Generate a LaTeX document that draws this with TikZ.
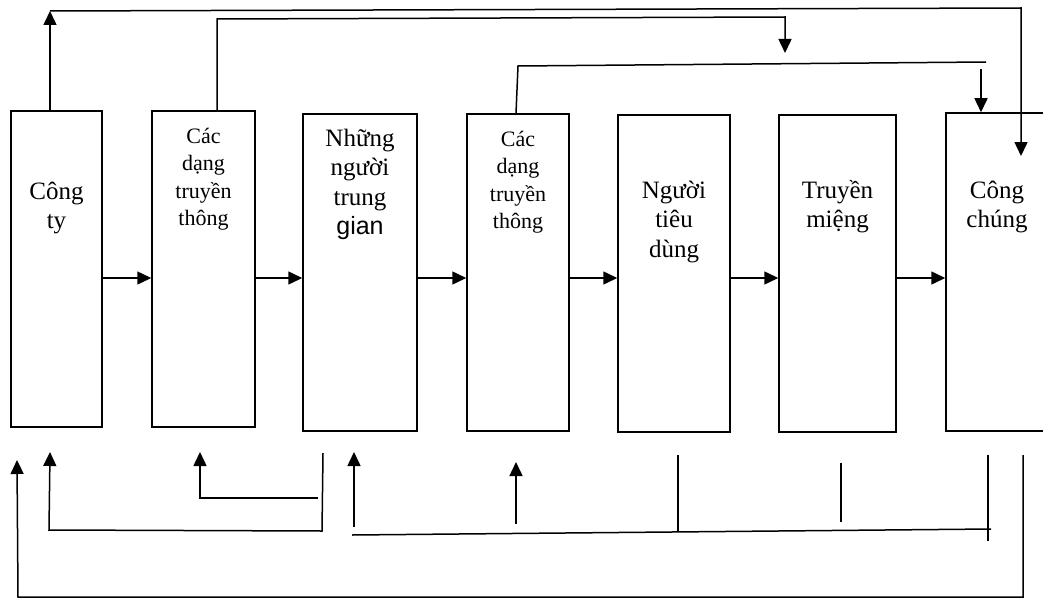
\documentclass[tikz,border=0pt]{standalone}
\usepackage{fontspec}
\setmainfont{Liberation Serif}
\newfontfamily\gsans{Liberation Sans}
\usetikzlibrary{arrows.meta}
\begin{document}
\begin{tikzpicture}[x=1pt,y=-1pt,
  line width=1.5pt,
  box/.style={draw, line width=1.5pt, inner sep=0pt},
  % labels are placed by the baseline of their last line
  bigtxt/.style={align=center, inner sep=0pt, anchor=base,
    font={\fontsize{25}{29.5}\selectfont}},
  smalltxt/.style={align=center, inner sep=0pt, anchor=base,
    font={\fontsize{22}{27.5}\selectfont}},
  arr/.style={-{Triangle[length=14pt,width=13pt]}},
  wire/.style={line join=miter}]
\clip (0,0) rectangle (1043,599);
\fill[white] (0,0) rectangle (1043,599);

% the seven stages
\node[box, minimum width=91pt,  minimum height=316pt] (b1) at (56.5,269)   {};
\node[box, minimum width=103pt, minimum height=316pt] (b2) at (203.5,269)  {};
\node[box, minimum width=114pt, minimum height=317pt] (b3) at (360,272.5)  {};
\node[box, minimum width=102pt, minimum height=317pt] (b4) at (518,272.5)  {};
\node[box, minimum width=112pt, minimum height=317pt] (b5) at (674,273.5)  {};
\node[box, minimum width=117pt, minimum height=317pt] (b6) at (837.5,273.5){};
\node[box, minimum width=102pt, minimum height=318pt] (b7) at (997,272)    {};

% labels
\node[bigtxt]   (t1) at (56.5,228.5)  {Công\\ty};
\node[smalltxt] (t2) at (203.5,225.5) {Các\\dạng\\truyền\\thông};
\node[bigtxt]   (t3) at (360,234.5)   {Những\\người\\trung\\{\gsans gian}};
\node[smalltxt] (t4) at (518,228.5)   {Các\\dạng\\truyền\\thông};
\node[bigtxt]   (t5) at (674,257)     {Người\\tiêu\\dùng};
\node[bigtxt]   (t6) at (837.5,227.5) {Truyền\\miệng};
\node[bigtxt]   (t7) at (997,227.5)   {Công\\chúng};

% main chain
\coordinate (mid) at (0,278);
\draw[arr] (b1.east |- mid) -- (b2.west |- mid);
\draw[arr] (b2.east |- mid) -- (b3.west |- mid);
\draw[arr] (b3.east |- mid) -- (b4.west |- mid);
\draw[arr] (b4.east |- mid) -- (b5.west |- mid);
\draw[arr] (b5.east |- mid) -- (b6.west |- mid);
\draw[arr] (b6.east |- mid) -- (b7.west |- mid);

% upper feedback lines
\coordinate (xa) at (50,0);
\coordinate (ca) at (50,11);
\coordinate (cb) at (1021,8);
\coordinate (cc) at (1021,156);
\draw[arr] (xa |- b1.north) -- (ca);
\draw[arr, wire] (ca) -- (cb) -- (cc);

\coordinate (xb) at (217,0);
\coordinate (da) at (217,19);
\coordinate (db) at (785,17);
\coordinate (dc) at (785,53);
\draw[arr, wire] (xb |- b2.north) -- (da) -- (db) -- (dc);

\coordinate (xc) at (516,0);
\coordinate (ea) at (518,66);
\coordinate (eb) at (986,62);
\draw[wire] (xc |- b4.north) -- (ea) -- (eb);
\coordinate (xd) at (981,0);
\coordinate (ec) at (981,69);
\draw[arr] (ec) -- (xd |- b7.north);

% lower feedback lines
\coordinate (fa) at (323,453);
\coordinate (fb) at (322,531);
\coordinate (fc) at (49,530);
\coordinate (fd) at (50,452);
\draw[arr, wire] (fa) -- (fb) -- (fc) -- (fd);

\coordinate (ga) at (318,498);
\coordinate (gb) at (200,498);
\coordinate (gc) at (200,452);
\draw[arr, wire] (ga) -- (gb) -- (gc);

\coordinate (ha) at (352,535);
\coordinate (hb) at (991,529);
\draw (ha) -- (hb);
\coordinate (hc) at (354,527);
\coordinate (hd) at (354,452);
\draw[arr] (hc) -- (hd);
\coordinate (ia) at (516,524);
\coordinate (ib) at (516,462);
\draw[arr] (ia) -- (ib);
\draw (678,455) -- (678,532);
\draw (841,463) -- (841,522);
\draw (988,455) -- (988,541);

\coordinate (ja) at (1023,455);
\coordinate (jb) at (1023,597);
\coordinate (jc) at (18,597);
\coordinate (jd) at (17,460);
\draw[arr, wire] (ja) -- (jb) -- (jc) -- (jd);
\end{tikzpicture}
\end{document}
